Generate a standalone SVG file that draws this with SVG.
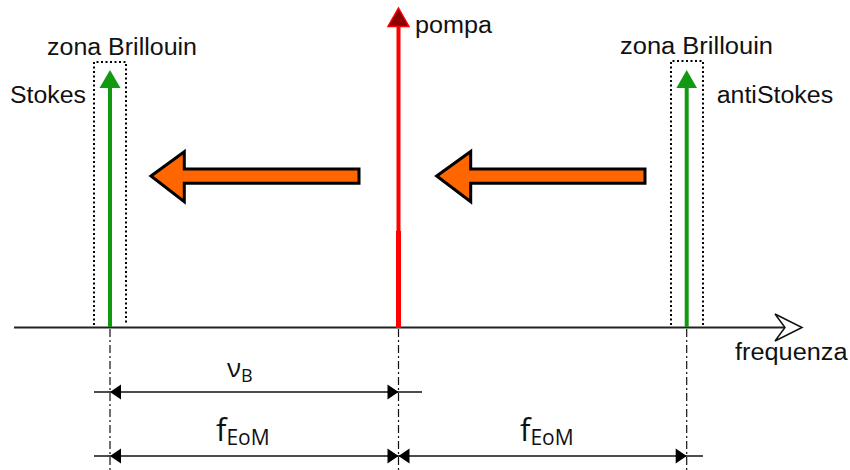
<svg xmlns="http://www.w3.org/2000/svg" width="850" height="470" viewBox="0 0 850 470">
<defs>
<style>
.lbl{font-family:"Liberation Sans",Arial,sans-serif;font-size:23px;fill:#111}
.dim{font-family:"Open Sans","Liberation Sans",sans-serif;fill:#111}
.dot{fill:none;stroke:#000;stroke-width:2;stroke-dasharray:2 2.5}
.dd{stroke:#111;stroke-width:1.2;stroke-dasharray:8 3 2 3;fill:none}
.dl{stroke:#111;stroke-width:1.5;fill:none}
.ah{fill:#000}
.green{stroke:#119911;stroke-width:4}
.ghead{fill:#119911}
.orange{fill:#ff6600;stroke:#000;stroke-width:3;stroke-linejoin:miter}
</style>
</defs>
<rect width="850" height="470" fill="#fff"/>

<g id="connectors">
  <!-- frequency axis -->
  <line x1="14" y1="327.5" x2="786" y2="327.5" stroke="#222" stroke-width="2"/>
  <polygon points="775,314 802,327.5 775,341 785,327.5" fill="#fff" stroke="#111" stroke-width="1.5" stroke-linejoin="miter"/>
  <!-- dash-dot verticals -->
  <line class="dd" x1="110" y1="329" x2="110" y2="470"/>
  <line class="dd" x1="398.5" y1="329" x2="398.5" y2="470"/>
  <line class="dd" x1="686.7" y1="329" x2="686.7" y2="470"/>
  <!-- dimension nuB -->
  <line class="dl" x1="94" y1="392" x2="422" y2="392"/>
  <polygon class="ah" points="110,392 121,384.5 121,399.5"/>
  <polygon class="ah" points="398.5,392 387.5,384.5 387.5,399.5"/>
  <!-- dimension fEoM -->
  <line class="dl" x1="94" y1="456" x2="703" y2="456"/>
  <polygon class="ah" points="110,456 121,448.5 121,463.5"/>
  <polygon class="ah" points="398.5,456 387.5,448.5 387.5,463.5"/>
  <polygon class="ah" points="398.5,456 409.5,448.5 409.5,463.5"/>
  <polygon class="ah" points="686.7,456 675.7,448.5 675.7,463.5"/>
  <!-- orange shift arrows -->
  <polygon class="orange" points="151,176 184.3,151.7 184.3,169 359,169 359,183.3 184.3,183.3 184.3,201.7"/>
  <polygon class="orange" points="436.7,176 470.7,151.5 470.7,169 645,169 645,183.3 470.7,183.3 470.7,201.7"/>
</g>

<g id="stokes">
  <polyline class="dot" points="94,325 94,62 126,62 126,325"/>
  <line class="green" x1="110" y1="327" x2="110" y2="86"/>
  <polygon class="ghead" points="110,70 120.5,88 99.5,88"/>
  <text class="lbl" x="47" y="55" textLength="150" lengthAdjust="spacingAndGlyphs">zona Brillouin</text>
  <text class="lbl" x="10" y="103" textLength="76" lengthAdjust="spacingAndGlyphs">Stokes</text>
</g>

<g id="pompa">
  <line x1="398.5" y1="232" x2="398.5" y2="24" stroke="#ff0000" stroke-width="4"/>
  <line x1="398.5" y1="328" x2="398.5" y2="231" stroke="#ff0000" stroke-width="5"/>
  <polygon points="398.5,8 409,26.5 388,26.5" fill="#8b0000" stroke="#ff0000" stroke-width="1.5"/>
  <text class="lbl" x="415" y="33" textLength="77" lengthAdjust="spacingAndGlyphs">pompa</text>
</g>

<g id="antistokes">
  <polyline class="dot" points="671,325 671,61 703,61 703,325"/>
  <line class="green" x1="686.7" y1="327" x2="686.7" y2="86"/>
  <polygon class="ghead" points="686.7,70 697,88 676.4,88"/>
  <text class="lbl" x="620" y="54" textLength="153" lengthAdjust="spacingAndGlyphs">zona Brillouin</text>
  <text class="lbl" x="716.7" y="103" textLength="116.5" lengthAdjust="spacingAndGlyphs">antiStokes</text>
</g>

<g id="frequenza">
  <text class="lbl" x="735" y="360" textLength="112.5" lengthAdjust="spacingAndGlyphs">frequenza</text>
</g>

<g id="label-nuB">
  <text class="dim" x="227" y="377" font-family="DejaVu Sans, sans-serif" font-size="26">ν<tspan font-family="Open Sans, sans-serif" font-size="18" dy="5">B</tspan></text>
</g>
<g id="label-fEoM-left">
  <text class="dim" x="216" y="441" font-size="31">f<tspan font-size="21" dy="4">EoM</tspan></text>
</g>
<g id="label-fEoM-right">
  <text class="dim" x="520" y="441" font-size="31">f<tspan font-size="21" dy="4">EoM</tspan></text>
</g>
</svg>
